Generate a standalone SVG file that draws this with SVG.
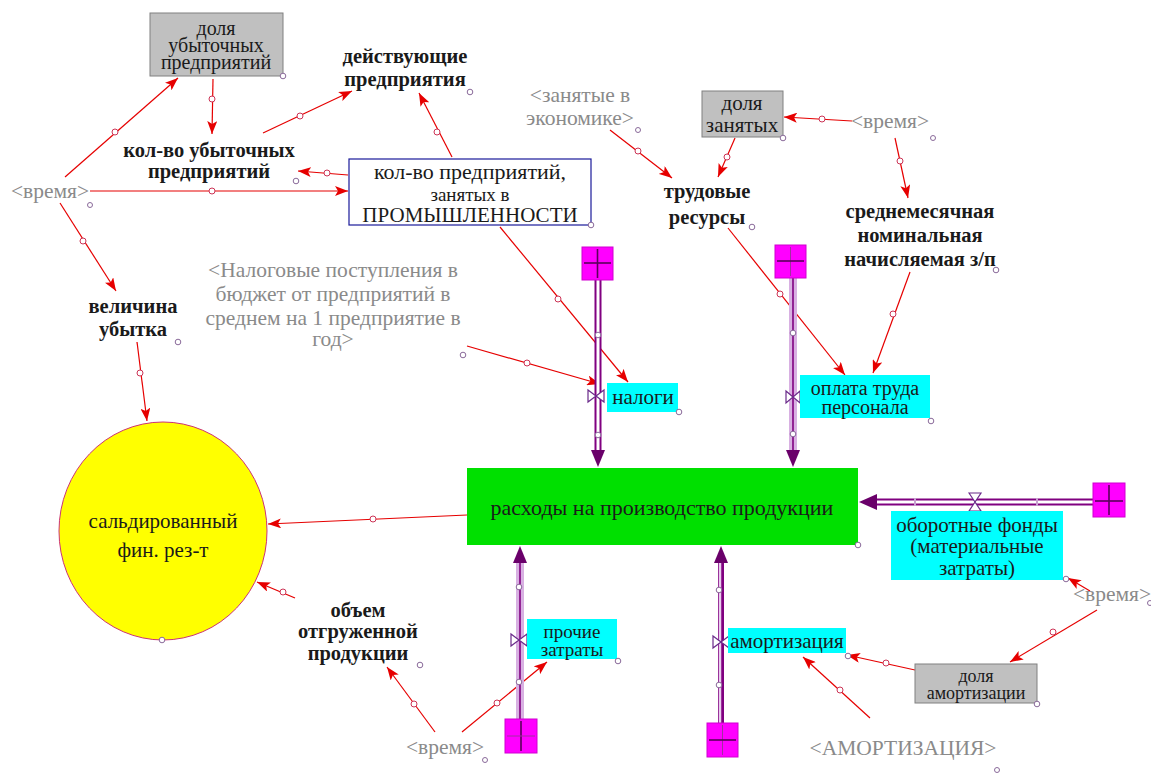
<svg xmlns="http://www.w3.org/2000/svg" width="1151" height="781" viewBox="0 0 1151 781">
  <defs>
    <style>
      .t { font-family: "Liberation Serif", "DejaVu Serif", serif; font-size: 21px; text-anchor: middle; fill: #1a1a1a; }
      .b { font-weight: bold; font-size: 20.5px; }
      .g { fill: #8a8a8a; font-size: 21.5px; }
      .lg { font-size: 22px; }
      .sm { font-size: 18px; }
      .lnk { stroke: #e60000; stroke-width: 1.2; fill: none; marker-end: url(#ah); }
      .hnd { fill: #ffffff; stroke: #cc3355; stroke-width: 1; }
      .knob { fill: #ffffff; stroke: #8a6a9a; stroke-width: 1; }
      .cloud { fill: #ff00ff; stroke: #d000d0; stroke-width: 1; }
      .cross { stroke: #5a005a; stroke-width: 1.6; }
      .pipeA { stroke: #800080; stroke-width: 7; fill: none; }
      .pipeB { stroke: #ffffff; stroke-width: 3; fill: none; }
      .pipeL { stroke: #d8b0e2; stroke-width: 8; fill: none; }
      .pipeC { stroke: #800080; stroke-width: 1.6; fill: none; }
      .valve { fill: #ffffff; stroke: #6a2a8a; stroke-width: 1.2; }
      .cyan { fill: #00ffff; }
      .grey { fill: #c0c0c0; stroke: #808080; stroke-width: 1; }
    </style>
    <marker id="ah" markerUnits="userSpaceOnUse" markerWidth="14" markerHeight="10" refX="13" refY="5" orient="auto">
      <path d="M0,0 L13,5 L0,10 L3,5 Z" fill="#e60000"/>
    </marker>
  </defs>

  <rect width="1151" height="781" fill="#ffffff"/>

  <!-- information links -->
  <g id="connectors">
    <line class="lnk" x1="65" y1="177" x2="178" y2="78"/>
    <circle class="hnd" cx="115" cy="132" r="3"/>
    <line class="lnk" x1="90" y1="191" x2="348" y2="191"/>
    <circle class="hnd" cx="212" cy="191" r="3"/>
    <line class="lnk" x1="60" y1="203" x2="116" y2="291"/>
    <circle class="hnd" cx="83" cy="241" r="3"/>
    <line class="lnk" x1="213" y1="79" x2="212" y2="134"/>
    <circle class="hnd" cx="212" cy="99" r="3"/>
    <line class="lnk" x1="263" y1="133" x2="352" y2="91"/>
    <circle class="hnd" cx="300" cy="116" r="3"/>
    <line class="lnk" x1="348" y1="175" x2="298" y2="171"/>
    <circle class="hnd" cx="327" cy="173" r="3"/>
    <line class="lnk" x1="452" y1="157" x2="419" y2="93"/>
    <circle class="hnd" cx="437" cy="132" r="3"/>
    <line class="lnk" x1="500" y1="227" x2="628" y2="382"/>
    <circle class="hnd" cx="558" cy="299" r="3"/>
    <line class="lnk" x1="467" y1="346" x2="600" y2="384"/>
    <circle class="hnd" cx="527" cy="363" r="3"/>
    <line class="lnk" x1="610" y1="130" x2="672" y2="178"/>
    <circle class="hnd" cx="638" cy="151" r="3"/>
    <line class="lnk" x1="735" y1="138" x2="718" y2="177"/>
    <circle class="hnd" cx="727" cy="157" r="3"/>
    <line class="lnk" x1="852" y1="121" x2="784" y2="117"/>
    <circle class="hnd" cx="822" cy="119" r="3"/>
    <line class="lnk" x1="895" y1="138" x2="908" y2="198"/>
    <circle class="hnd" cx="900" cy="161" r="3"/>
    <line class="lnk" x1="728" y1="228" x2="845" y2="375"/>
    <circle class="hnd" cx="780" cy="294" r="3"/>
    <line class="lnk" x1="910" y1="272" x2="873" y2="373"/>
    <circle class="hnd" cx="893" cy="314" r="3"/>
    <line class="lnk" x1="467" y1="515" x2="268" y2="524"/>
    <circle class="hnd" cx="373" cy="519" r="3"/>
    <line class="lnk" x1="137" y1="342" x2="147" y2="421"/>
    <circle class="hnd" cx="140" cy="373" r="3"/>
    <line class="lnk" x1="295" y1="598" x2="257" y2="582"/>
    <circle class="hnd" cx="283" cy="592" r="3"/>
    <line class="lnk" x1="435" y1="732" x2="387" y2="667"/>
    <circle class="hnd" cx="414" cy="704" r="3"/>
    <line class="lnk" x1="462" y1="732" x2="547" y2="662"/>
    <circle class="hnd" cx="497" cy="703" r="3"/>
    <line class="lnk" x1="1097" y1="610" x2="1010" y2="662"/>
    <circle class="hnd" cx="1053" cy="632" r="3"/>
    <line class="lnk" x1="1090" y1="591" x2="1068" y2="578"/>
    <line class="lnk" x1="915" y1="670" x2="847" y2="655"/>
    <circle class="hnd" cx="886" cy="663" r="3"/>
    <line class="lnk" x1="870" y1="718" x2="803" y2="657"/>
    <circle class="hnd" cx="840" cy="690" r="3"/>
  </g>

  <!-- material flows (pipes) -->
  <g id="flows">
    <!-- налоги -->
    <line class="pipeA" x1="598" y1="280" x2="598" y2="455"/>
    <line class="pipeB" x1="598" y1="280" x2="598" y2="455"/>
    <path d="M591,450 L605,450 L598,467 Z" fill="#6a006a"/>
    <circle class="knob" cx="598" cy="335" r="2.8"/>
    <circle class="knob" cx="598" cy="435" r="2.8"/>
    <!-- оплата труда персонала -->
    <line class="pipeL" x1="793" y1="278" x2="793" y2="455"/>
    <line class="pipeC" x1="793" y1="278" x2="793" y2="455"/>
    <path d="M786,450 L800,450 L793,467 Z" fill="#6a006a"/>
    <circle class="knob" cx="793" cy="333" r="2.8"/>
    <circle class="knob" cx="793" cy="434" r="2.8"/>
    <!-- прочие затраты -->
    <line class="pipeL" x1="520" y1="719" x2="520" y2="558"/>
    <line class="pipeC" x1="520" y1="719" x2="520" y2="558"/>
    <path d="M513,563 L527,563 L520,546 Z" fill="#6a006a"/>
    <circle class="knob" cx="519" cy="587" r="2.8"/>
    <circle class="knob" cx="519" cy="682" r="2.8"/>
    <!-- амортизация -->
    <line class="pipeA" x1="721" y1="723" x2="721" y2="558" style="stroke-width:6"/>
    <line x1="720" y1="723" x2="720" y2="558" stroke="#e8cdee" stroke-width="2.5"/>
    <path d="M714,563 L728,563 L721,546 Z" fill="#6a006a"/>
    <circle class="knob" cx="719" cy="590" r="2.8"/>
    <circle class="knob" cx="719" cy="685" r="2.8"/>
    <!-- оборотные фонды -->
    <line class="pipeA" x1="1093" y1="502" x2="872" y2="502"/>
    <line class="pipeB" x1="1093" y1="502" x2="872" y2="502"/>
    <path d="M877,494 L877,510 L859,502 Z" fill="#6a006a"/>
    <line x1="915" y1="498" x2="915" y2="506" stroke="#c8a0d0" stroke-width="2"/>
    <line x1="1037" y1="498" x2="1037" y2="506" stroke="#c8a0d0" stroke-width="2"/>
  </g>

  <!-- sources (clouds) -->
  <g id="cloud-nalogi">
    <rect class="cloud" x="582" y="247" width="31" height="33"/>
    <line class="cross" x1="597.5" y1="249" x2="597.5" y2="278"/>
    <line class="cross" x1="584" y1="263" x2="611" y2="263"/>
  </g>
  <g id="cloud-oplata">
    <rect class="cloud" x="775" y="245" width="31" height="33"/>
    <line class="cross" x1="790.5" y1="247" x2="790.5" y2="276" style="stroke:#a030a0;stroke-width:1"/>
    <line class="cross" x1="777" y1="261" x2="804" y2="261"/>
  </g>
  <g id="cloud-prochie">
    <rect class="cloud" x="505" y="719" width="32" height="34"/>
    <line class="cross" x1="521" y1="721" x2="521" y2="751"/>
    <line class="cross" x1="507" y1="736" x2="535" y2="736" style="stroke:#a030a0;stroke-width:1"/>
  </g>
  <g id="cloud-amort">
    <rect class="cloud" x="707" y="723" width="31" height="34"/>
    <line class="cross" x1="722.5" y1="725" x2="722.5" y2="755" style="stroke:#a030a0;stroke-width:1"/>
    <line class="cross" x1="709" y1="740" x2="736" y2="740"/>
  </g>
  <g id="cloud-oborot">
    <rect class="cloud" x="1093" y="483" width="32" height="34"/>
    <line class="cross" x1="1109" y1="485" x2="1109" y2="515"/>
    <line class="cross" x1="1095" y1="501" x2="1123" y2="501"/>
  </g>

  <!-- rates -->
  <g id="nalogi">
    <path class="valve" d="M588,390 L596,396 L588,402 Z M604,390 L596,396 L604,402 Z"/>
    <rect class="cyan" x="607" y="383" width="71" height="29"/>
    <text class="t" x="643" y="404">налоги</text>
    <circle class="knob" cx="679" cy="412" r="2.8"/>
  </g>
  <g id="oplata-truda">
    <path class="valve" d="M786,391 L793,397 L786,403 Z M800,391 L793,397 L800,403 Z"/>
    <rect class="cyan" x="800" y="375" width="130" height="43"/>
    <text class="t" x="865" y="395" style="font-size:20px">оплата труда</text>
    <text class="t" x="865" y="414" style="font-size:20px">персонала</text>
    <circle class="knob" cx="931" cy="421" r="2.8"/>
  </g>
  <g id="prochie-zatraty">
    <path class="valve" d="M511,634 L519,640 L511,646 Z M527,634 L519,640 L527,646 Z"/>
    <rect class="cyan" x="527" y="619" width="90" height="40"/>
    <text class="t" x="572" y="638" style="font-size:19px">прочие</text>
    <text class="t" x="572" y="656" style="font-size:19px">затраты</text>
    <circle class="knob" cx="618" cy="661" r="2.8"/>
  </g>
  <g id="amortizatsiya">
    <path class="valve" d="M713,636 L721,642 L713,648 Z M729,636 L721,642 L729,648 Z"/>
    <rect class="cyan" x="728" y="628" width="118" height="25"/>
    <text class="t" x="787" y="648">амортизация</text>
    <circle class="knob" cx="848" cy="656" r="2.8"/>
  </g>
  <g id="oborotnye-fondy">
    <path class="valve" d="M969,493 L975,502 L981,493 Z M969,511 L975,502 L981,511 Z"/>
    <rect class="cyan" x="891" y="511" width="172" height="69"/>
    <text class="t" x="977" y="532">оборотные фонды</text>
    <text class="t" x="977" y="553">(материальные</text>
    <text class="t" x="977" y="575">затраты)</text>
    <circle class="knob" cx="1066" cy="579" r="2.8"/>
  </g>

  <!-- stock -->
  <g id="raskhody">
    <rect x="467" y="468" width="391" height="77" fill="#00e000"/>
    <text class="t lg" x="662" y="515">расходы на производство продукции</text>
    <circle class="knob" cx="858" cy="545" r="2.8"/>
  </g>

  <!-- result -->
  <g id="saldo">
    <ellipse cx="163" cy="531" rx="104" ry="109" fill="#ffff00" stroke="#cc3377" stroke-width="1"/>
    <text class="t" x="163" y="528">сальдированный</text>
    <text class="t" x="163" y="557">фин. рез-т</text>
    <circle class="knob" cx="162" cy="640" r="2.8"/>
  </g>

  <!-- auxiliaries -->
  <g id="dolya-ubytochnykh">
    <rect class="grey" x="150" y="13" width="133" height="63"/>
    <text class="t" x="216" y="35" style="font-size:20px">доля</text>
    <text class="t" x="216" y="52" style="font-size:20px">убыточных</text>
    <text class="t" x="216" y="69" style="font-size:20px">предприятий</text>
    <circle class="knob" cx="283" cy="76" r="2.8"/>
  </g>
  <g id="deystvuyushchie">
    <text class="t b" x="405" y="63">действующие</text>
    <text class="t b" x="405" y="86">предприятия</text>
    <circle class="knob" cx="470" cy="92" r="2.8"/>
  </g>
  <g id="kolvo-ubytochnykh">
    <text class="t b" x="209" y="157">кол-во убыточных</text>
    <text class="t b" x="209" y="178">предприятий</text>
    <circle class="knob" cx="296" cy="181" r="2.8"/>
  </g>
  <g id="kolvo-promyshl">
    <rect x="349" y="159" width="242" height="66" fill="#ffffff" stroke="#1a1a9a" stroke-width="1.2"/>
    <text class="t lg" x="470" y="179">кол-во предприятий,</text>
    <text class="t" x="470" y="201" style="font-size:19px">занятых в</text>
    <text class="t" x="470" y="222">ПРОМЫШЛЕННОСТИ</text>
    <circle class="knob" cx="591" cy="225" r="2.8"/>
  </g>
  <g id="vremya-left">
    <text class="t g" x="50" y="198">&lt;время&gt;</text>
    <circle class="knob" cx="90" cy="205" r="2.5"/>
  </g>
  <g id="velichina-ubytka">
    <text class="t b" x="133" y="313">величина</text>
    <text class="t b" x="133" y="336">убытка</text>
    <circle class="knob" cx="178" cy="342" r="2.8"/>
  </g>
  <g id="nalog-postupleniya">
    <text class="t g" x="333" y="277">&lt;Налоговые поступления в</text>
    <text class="t g" x="333" y="301">бюджет от предприятий в</text>
    <text class="t g" x="333" y="325">среднем на 1 предприятие в</text>
    <text class="t g" x="333" y="346">год&gt;</text>
    <circle class="knob" cx="463" cy="355" r="2.8"/>
  </g>
  <g id="zanyatye">
    <text class="t g" x="580" y="102">&lt;занятые в</text>
    <text class="t g" x="580" y="125">экономике&gt;</text>
    <circle class="knob" cx="638" cy="130" r="2.5"/>
  </g>
  <g id="dolya-zanyatykh">
    <rect class="grey" x="702" y="91" width="81" height="46"/>
    <text class="t" x="742" y="110">доля</text>
    <text class="t" x="742" y="132">занятых</text>
    <circle class="knob" cx="783" cy="138" r="2.8"/>
  </g>
  <g id="vremya-top">
    <text class="t g" x="890" y="128">&lt;время&gt;</text>
    <circle class="knob" cx="933" cy="138" r="2.5"/>
  </g>
  <g id="trudovye-resursy">
    <text class="t b" x="707" y="198">трудовые</text>
    <text class="t b" x="707" y="224">ресурсы</text>
    <circle class="knob" cx="752" cy="227" r="2.8"/>
  </g>
  <g id="srednemes-zp">
    <text class="t b" x="920" y="218">среднемесячная</text>
    <text class="t b" x="920" y="242">номинальная</text>
    <text class="t b" x="920" y="266">начисляемая з/п</text>
    <circle class="knob" cx="996" cy="270" r="2.8"/>
  </g>
  <g id="obem-produktsii">
    <text class="t b" x="358" y="617">объем</text>
    <text class="t b" x="358" y="638">отгруженной</text>
    <text class="t b" x="358" y="660">продукции</text>
    <circle class="knob" cx="420" cy="665" r="2.8"/>
  </g>
  <g id="vremya-bottom">
    <text class="t g" x="445" y="754">&lt;время&gt;</text>
    <circle class="knob" cx="485" cy="760" r="2.5"/>
  </g>
  <g id="vremya-right">
    <text class="t g" x="1112" y="601">&lt;время&gt;</text>
    <circle class="knob" cx="1150" cy="603" r="2.5"/>
  </g>
  <g id="dolya-amortizatsii">
    <rect class="grey" x="915" y="664" width="122" height="39"/>
    <text class="t sm" x="976" y="682">доля</text>
    <text class="t sm" x="976" y="699">амортизации</text>
    <circle class="knob" cx="1037" cy="704" r="2.8"/>
  </g>
  <g id="amortizatsiya-ext">
    <text class="t g" x="903" y="755">&lt;АМОРТИЗАЦИЯ&gt;</text>
    <circle class="knob" cx="997" cy="770" r="2.5"/>
  </g>
</svg>
